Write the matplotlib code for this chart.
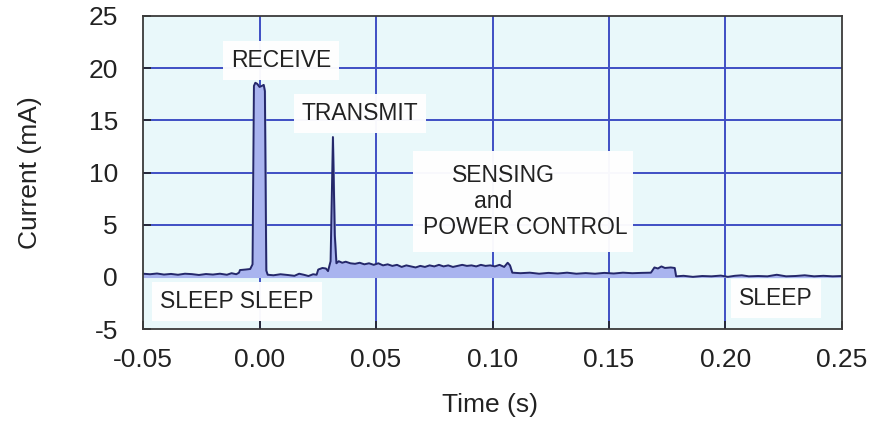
import numpy as np
import matplotlib.pyplot as plt
from matplotlib.patches import Rectangle

plt.rcParams['font.family'] = ['Liberation Sans', 'DejaVu Sans']
plt.rcParams['axes.unicode_minus'] = False

# current trace (time in s, current in mA)
time_s = [-0.050, -0.047, -0.044, -0.041, -0.038, -0.035, -0.032, -0.029, -0.026, -0.023,
          -0.020, -0.017, -0.014, -0.012, -0.010, -0.0088, -0.0084, -0.006, -0.004, -0.0030,
          -0.0024, -0.0018, -0.0010, 0.0000, 0.0010, 0.0018, 0.0023, 0.0029, 0.0035, 0.006,
          0.009, 0.012, 0.015, 0.017, 0.019, 0.021, 0.023, 0.0245, 0.0252, 0.027,
          0.0285, 0.0294, 0.0305, 0.0315, 0.0323, 0.0330, 0.0340, 0.0355, 0.037, 0.039,
          0.041, 0.043, 0.045, 0.047, 0.049, 0.051, 0.053, 0.055, 0.057, 0.059,
          0.061, 0.063, 0.065, 0.067, 0.069, 0.071, 0.073, 0.075, 0.077, 0.079,
          0.081, 0.083, 0.085, 0.087, 0.089, 0.091, 0.093, 0.095, 0.097, 0.099,
          0.101, 0.103, 0.105, 0.1065, 0.1075, 0.1085, 0.112, 0.116, 0.120, 0.124,
          0.128, 0.132, 0.136, 0.140, 0.144, 0.148, 0.152, 0.156, 0.160, 0.164,
          0.168, 0.1695, 0.171, 0.1725, 0.174, 0.1765, 0.1782, 0.1788, 0.182, 0.186,
          0.190, 0.194, 0.198, 0.201, 0.204, 0.207, 0.210, 0.214, 0.218, 0.222,
          0.226, 0.230, 0.234, 0.238, 0.242, 0.246, 0.250]
current_ma = [0.30, 0.25, 0.32, 0.22, 0.28, 0.20, 0.30, 0.26, 0.18, 0.27,
              0.22, 0.30, 0.20, 0.35, 0.25, 0.40, 0.65, 0.70, 0.75, 1.20,
              18.3, 18.6, 18.5, 18.2, 18.3, 18.4, 17.8, 0.60, 0.20, 0.15,
              0.25, 0.18, 0.10, 0.30, 0.20, 0.08, 0.25, 0.20, 0.70, 0.85,
              0.80, 0.55, 1.50, 13.4, 4.00, 1.30, 1.50, 1.35, 1.45, 1.30,
              1.25, 1.35, 1.20, 1.30, 1.15, 1.30, 1.10, 1.20, 1.05, 1.15,
              0.95, 1.10, 1.00, 0.90, 1.05, 0.95, 1.10, 1.00, 1.15, 1.00,
              1.10, 0.95, 1.05, 1.15, 1.05, 1.10, 1.00, 1.15, 1.05, 1.10,
              1.00, 1.15, 0.95, 1.35, 1.10, 0.40, 0.35, 0.40, 0.30, 0.38,
              0.32, 0.40, 0.30, 0.36, 0.30, 0.38, 0.32, 0.40, 0.35, 0.38,
              0.40, 0.90, 0.80, 1.00, 0.85, 0.90, 0.85, 0.05, 0.10, 0.00,
              0.08, 0.05, 0.12, 0.00, 0.10, 0.15, 0.05, 0.08, 0.05, 0.20,
              0.05, 0.08, 0.15, 0.05, 0.10, 0.05, 0.08]

x_ticks = [-0.05, 0.00, 0.05, 0.10, 0.15, 0.20, 0.25]
x_ticklabels = ['-0.05', '0.00', '0.05', '0.10', '0.15', '0.20', '0.25']
y_ticks = [25, 20, 15, 10, 5, 0, -5]
y_ticklabels = ['25', '20', '15', '10', '5', '0', '-5']

fig = plt.figure(figsize=(8.7, 4.21), dpi=100)
ax = fig.add_axes([0.1644, 0.2185, 0.8034, 0.7435])
ax.set_facecolor('#e9f8fa')

# grid lines (drawn manually so they sit under the labels)
for gx in [0.00, 0.05, 0.10, 0.15, 0.20]:
    ax.axvline(gx, color='#3f4fc4', lw=1.4, zorder=1)
for gy in [5, 10, 15, 20]:
    ax.axhline(gy, color='#3f4fc4', lw=1.4, zorder=1)

t = np.array(time_s)
c = np.array(current_ma)
ax.fill_between(t, c, 0, color='#a9b4ef', zorder=2)
ax.plot(t, c, color='#25286a', lw=1.4, zorder=3)

fs = 16.5
tc = '#222222'
box = dict(boxstyle='square,pad=0.35', facecolor='white', edgecolor='none', alpha=0.97)
ax.text(0.0092, 20.7, 'RECEIVE', fontsize=fs, ha='center', va='center', color=tc,
        bbox=box, zorder=4)
ax.text(0.0431, 15.7, 'TRANSMIT', fontsize=fs, ha='center', va='center', color=tc,
        bbox=box, zorder=4)
ax.add_patch(Rectangle((0.0659, 2.4), 0.0944, 9.7, facecolor='white',
                       edgecolor='none', alpha=0.97, zorder=4))
ax.text(0.1045, 9.75, 'SENSING', fontsize=fs, ha='center', va='center', color=tc, zorder=5)
ax.text(0.1002, 7.2, 'and', fontsize=fs, ha='center', va='center', color=tc, zorder=5)
ax.text(0.1139, 4.7, 'POWER CONTROL', fontsize=fs, ha='center', va='center', color=tc, zorder=5)
ax.text(-0.0097, -2.4, 'SLEEP SLEEP', fontsize=fs, ha='center', va='center', color=tc,
        bbox=box, zorder=4)
ax.text(0.2217, -2.1, 'SLEEP', fontsize=fs, ha='center', va='center', color=tc,
        bbox=box, zorder=4)

ax.set_xlim(-0.05, 0.25)
ax.set_ylim(-5, 25)
ax.set_xticks(x_ticks)
ax.set_xticklabels(x_ticklabels)
ax.set_yticks(y_ticks)
ax.set_yticklabels(y_ticklabels)
ax.tick_params(direction='in', length=6, width=1.2, labelsize=19, colors=tc,
               top=False, right=False)
ax.tick_params(axis='x', pad=14)
ax.tick_params(axis='y', pad=18)
for s in ax.spines.values():
    s.set_color('#3a3a3a')
    s.set_linewidth(1.3)
    s.set_zorder(6)

ax.set_xlabel('Time (s)', fontsize=19, color=tc)
ax.set_ylabel('Current (mA)', fontsize=19, color=tc)
ax.xaxis.set_label_coords(0.497, -0.205)
ax.yaxis.set_label_coords(-0.145, 0.5)

fig.savefig('out.png', dpi=100)
